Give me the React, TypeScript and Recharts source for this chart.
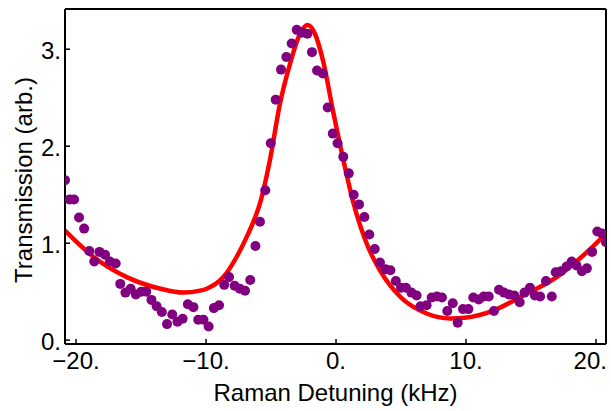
import { ComposedChart, Line, Scatter, XAxis, YAxis, ReferenceLine, Label } from 'recharts'

// measured points (Raman detuning in kHz, transmission arb.)
const pointX = [
  -20.85, -20.5, -20.15, -19.77, -19.38, -18.98, -18.6, -18.2, -17.77, -17.4,
  -16.95, -16.6, -16.2, -15.8, -15.4, -14.97, -14.6, -14.2, -13.8, -13.4,
  -13.0, -12.6, -12.2, -11.8, -11.4, -10.97, -10.6, -10.2, -9.8, -9.4,
  -9.0, -8.6, -8.23, -7.8, -7.4, -7.0, -6.6, -6.2, -5.85, -5.44,
  -5.02, -4.64, -4.23, -3.82, -3.41, -3.02, -2.62, -2.2, -1.85, -1.46,
  -1.02, -0.64, -0.25, 0.12, 0.56, 0.98, 1.36, 1.77, 2.18, 2.56,
  2.98, 3.38, 3.8, 4.18, 4.6, 5.0, 5.38, 5.8, 6.2, 6.5,
  6.97, 7.36, 7.77, 8.15, 8.56, 8.98, 9.36, 9.77, 10.18, 10.56,
  10.98, 11.36, 11.75, 12.15, 12.54, 12.92, 13.3, 13.72, 14.13, 14.5,
  14.92, 15.3, 15.7, 16.15, 16.6, 16.9, 17.3, 17.74, 18.13, 18.5,
  18.92, 19.3, 19.7, 20.1, 20.46, 20.77,
]
const pointY = [
  1.65, 1.45, 1.45, 1.265, 1.15, 0.92, 0.81, 0.91, 0.88, 0.81,
  0.79, 0.58, 0.49, 0.53, 0.47, 0.5, 0.5, 0.415, 0.35, 0.29,
  0.165, 0.265, 0.19, 0.22, 0.37, 0.34, 0.21, 0.21, 0.14, 0.33,
  0.36, 0.57, 0.65, 0.56, 0.53, 0.51, 0.62, 0.97, 1.22, 1.546,
  2.03, 2.48, 2.79, 2.92, 3.06, 3.2, 3.17, 3.16, 2.97, 2.78,
  2.75, 2.4, 2.13, 2.03, 1.89, 1.72, 1.5, 1.4, 1.27, 1.09,
  0.94, 0.8, 0.73, 0.72, 0.61, 0.54, 0.54, 0.49, 0.46, 0.35,
  0.36, 0.44, 0.45, 0.44, 0.3, 0.38, 0.18, 0.32, 0.32, 0.44,
  0.42, 0.45, 0.45, 0.3, 0.52, 0.49, 0.47, 0.46, 0.39, 0.49,
  0.54, 0.46, 0.45, 0.61, 0.45, 0.7, 0.71, 0.76, 0.81, 0.77,
  0.71, 0.74, 0.91, 1.12, 1.1, 1.01,
]

// fitted curve
const fitX = [
  -20.85, -18.67, -16.1, -13.5, -11.75, -10.46, -9.95, -8.67, -7.64, -6.87,
  -6.36, -5.85, -5.08, -4.31, -3.54, -2.77, -2.18, -1.62, -0.98, -0.21,
  0.56, 1.33, 2.5, 3.38, 4.92, 6.97, 8.77, 10.05, 12.0, 14.4,
  16.97, 19.4, 20.77,
]
const fitY = [
  1.13, 0.86, 0.65, 0.53, 0.49, 0.51, 0.53, 0.65, 0.86, 1.065,
  1.22, 1.41, 1.86, 2.44, 2.85, 3.16, 3.25, 3.16, 2.87, 2.35,
  1.86, 1.42, 0.95, 0.72, 0.45, 0.275, 0.224, 0.234, 0.3, 0.46,
  0.65, 0.92, 1.1,
]

const xTicks = [-20, -10, 0, 10, 20]
const yTicks = [0, 1, 2, 3]
const xDomain: [number, number] = [-20.85, 20.77]
const yDomain: [number, number] = [-0.04, 3.415]

const points = pointX.map((x, i) => ({ x, y: pointY[i] }))
const fit = fitX.map((x, i) => ({ x, y: fitY[i] }))

const FONT = '"Liberation Sans", Arial, sans-serif'
const FS = 24

const fmt = (v: number) => `${v < 0 ? '\u2212' : ''}${Math.abs(v)}.`

function XTick({ x, y, payload }: any) {
  // last label is kept inside the picture, flush with the frame
  const last = payload.value === xTicks[xTicks.length - 1]
  return (
    <g>
      <line x1={x} y1={y} x2={x} y2={y - 5} stroke="#000" strokeWidth={1.5} />
      <text
        x={last ? x + 11 : x}
        y={y + 25}
        textAnchor={last ? 'end' : 'middle'}
        fontSize={FS}
        fontFamily={FONT}
        fill="#000"
      >
        {fmt(payload.value)}
      </text>
    </g>
  )
}

function YTick({ x, y, payload }: any) {
  return (
    <g>
      <line x1={x} y1={y} x2={x + 5} y2={y} stroke="#000" strokeWidth={1.5} />
      <text x={x - 4} y={y + 10} textAnchor="end" fontSize={FS} fontFamily={FONT} fill="#000">
        {fmt(payload.value)}
      </text>
    </g>
  )
}

const Dot = (props: any) => <circle cx={props.cx} cy={props.cy} r={5} fill="#800080" />

export default function App() {
  return (
    <div style={{ position: 'absolute', left: 0, top: 0, background: '#fff' }}>
      <ComposedChart width={611} height={411} margin={{ top: 9, right: 5, bottom: 0, left: 0 }}>
        <XAxis
          type="number"
          dataKey="x"
          domain={xDomain}
          ticks={xTicks}
          interval={0}
          allowDataOverflow
          height={67}
          tickSize={0}
          tickMargin={0}
          tick={<XTick />}
          axisLine={{ stroke: '#000', strokeWidth: 2 }}
        >
          <Label
            content={({ viewBox }: any) => (
              <text
                x={viewBox.x + viewBox.width / 2}
                y={401}
                textAnchor="middle"
                fontSize={FS}
                fontFamily={FONT}
                fill="#000"
              >
                Raman Detuning (kHz)
              </text>
            )}
          />
        </XAxis>
        <YAxis
          type="number"
          dataKey="y"
          domain={yDomain}
          ticks={yTicks}
          interval={0}
          allowDataOverflow
          width={65}
          tickSize={0}
          tickMargin={0}
          tick={<YTick />}
          axisLine={{ stroke: '#000', strokeWidth: 2 }}
        >
          <Label
            content={() => (
              <text
                transform="translate(31.5,180) rotate(-90)"
                textAnchor="middle"
                fontSize={FS}
                fontFamily={FONT}
                fill="#000"
              >
                Transmission (arb.)
              </text>
            )}
          />
        </YAxis>
        <ReferenceLine y={yDomain[1]} stroke="#000" strokeWidth={2} />
        <ReferenceLine x={xDomain[1]} stroke="#000" strokeWidth={2} />
        <Line
          data={fit}
          dataKey="y"
          type="monotone"
          stroke="#ff0000"
          strokeWidth={4.5}
          dot={false}
          isAnimationActive={false}
        />
        <Scatter data={points} dataKey="y" shape={<Dot />} isAnimationActive={false} />
      </ComposedChart>
    </div>
  )
}
